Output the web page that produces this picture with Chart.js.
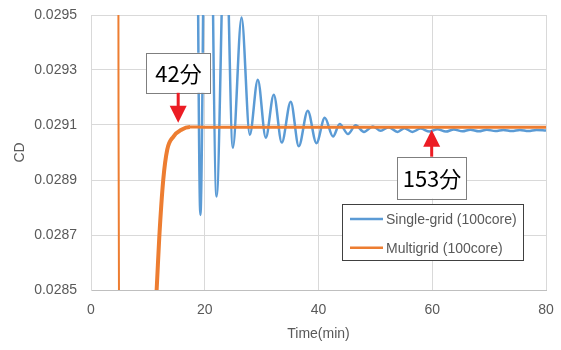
<!DOCTYPE html>
<html>
<head>
<meta charset="utf-8">
<script src="https://cdn.jsdelivr.net/npm/chart.js@4.4.1/dist/chart.umd.min.js"></script>
<style>
  body { margin: 0; background: #fff; }
  #wrap { width: 561px; height: 350px; }
</style>
</head>
<body>
<div id="wrap"><canvas id="myChart"></canvas></div>
<script>
// CD history (peaks and troughs only)
var seriesNames = ['Single-grid (100core)', 'Multigrid (100core)'];

var blueTime = [18.3, 19.23, 20.45, 22.08, 23.6, 24.94, 26.47, 27.92, 29.33, 30.73, 32.14, 33.54,
  35.12, 36.53, 38.11, 39.64, 41.1, 42.55, 43.73, 45.19, 46.54, 48.0, 49.58, 50.93, 52.3, 53.9,
  55.1, 56.5, 57.95, 59.5, 60.9, 62.4, 63.8, 65.3, 66.7, 68.2, 69.6, 71.1, 72.5, 74.0, 75.4, 76.9, 78.3, 80];
var blueCd = [0.0314, 0.028773, 0.0309, 0.02884, 0.0299, 0.029017, 0.029491, 0.029065, 0.029265, 0.029054,
  0.02921, 0.029036, 0.029185, 0.029023, 0.029152, 0.029034, 0.029126, 0.029058, 0.029104, 0.029067,
  0.029099, 0.029075, 0.029095, 0.029079, 0.029092, 0.029075, 0.029088, 0.029075, 0.029087, 0.029076,
  0.029085, 0.029076, 0.029084, 0.029077, 0.029083, 0.029077, 0.029083, 0.029078, 0.029082, 0.029078,
  0.029082, 0.029078, 0.029082, 0.02908];

var orangeTime = [4.80, 4.84, 4.97, 9.0, 11.0, 11.54, 12.0, 12.7, 13.4, 14.5, 15.9, 17.4, 20.0, 80];
var orangeCd = [0.0300, 0.02912, 0.0281, 0.0278, 0.02832, 0.0285, 0.02869, 0.0289, 0.02901, 0.029058,
  0.029083, 0.029093, 0.029092, 0.029092];

var xTicks = [0, 20, 40, 60, 80];
var yTicks = [0.0285, 0.0287, 0.0289, 0.0291, 0.0293, 0.0295];

// call-outs: label, time, CD at arrow tip
var noteLabels = ['42分', '153分'];
var noteTime = [15.33, 59.9];
var noteCd = [0.029108, 0.029083];

function pts(xs, ys) {
  return xs.map(function (x, i) { return { x: x, y: ys[i] }; });
}

var grey = '#595959';
var tickFont = { family: '"Liberation Sans", Arial, sans-serif', size: 14 };

// legend box sitting inside the plot
var boxLegend = {
  id: 'boxLegend',
  afterDraw: function (chart) {
    var c = chart.ctx;
    c.save();
    c.fillStyle = '#fff';
    c.fillRect(342, 204, 182, 57);
    c.strokeStyle = '#404040';
    c.lineWidth = 1;
    c.strokeRect(342.5, 204.5, 181, 56);
    c.font = '14px "Liberation Sans", Arial, sans-serif';
    c.textBaseline = 'middle';
    chart.data.datasets.forEach(function (ds, i) {
      var y = 219 + i * 28.7;
      c.strokeStyle = ds.borderColor;
      c.lineWidth = 2.5;
      c.beginPath();
      c.moveTo(350, y);
      c.lineTo(383, y);
      c.stroke();
      c.fillStyle = grey;
      c.fillText(ds.label, 386, y + 1);
    });
    c.restore();
  }
};

// red arrows with boxed labels
var callouts = {
  id: 'callouts',
  afterDraw: function (chart) {
    var c = chart.ctx, xs = chart.scales.x, ys = chart.scales.y;
    c.save();
    noteLabels.forEach(function (txt, i) {
      var px = xs.getPixelForValue(noteTime[i]);
      var tip = ys.getPixelForValue(noteCd[i]);
      var down = i === 0;
      var w = down ? 64 : 69, h = down ? 40 : 42;
      var by = down ? tip - 30 - h : tip + 27;
      var bx = Math.round(px - w / 2) + 0.5;
      c.fillStyle = '#fff';
      c.fillRect(bx, by, w, h);
      c.strokeStyle = '#7f7f7f';
      c.lineWidth = 1;
      c.strokeRect(bx, Math.round(by) + 0.5, w, h);
      c.fillStyle = '#000';
      c.font = '22px "Noto Sans CJK JP", sans-serif';
      c.textAlign = 'center';
      c.textBaseline = 'middle';
      c.fillText(txt, bx + w / 2, by + h / 2 + 1);

      var s = down ? -1 : 1;
      c.fillStyle = '#ec1c24';
      c.fillRect(px - 1.5, Math.min(tip + s * 15, tip + s * (down ? 30 : 27)),
        3, Math.abs((down ? 30 : 27) - 15));
      c.beginPath();
      c.moveTo(px - 8.5, tip + s * 17);
      c.lineTo(px + 8.5, tip + s * 17);
      c.lineTo(px, tip);
      c.closePath();
      c.fill();
    });
    c.restore();
  }
};

var ctx = document.getElementById('myChart').getContext('2d');

const myChart = new Chart(ctx, {
  type: 'line',
  data: {
    datasets: [{
      label: seriesNames[0],
      data: pts(blueTime, blueCd),
      borderColor: '#5b9bd5',
      borderWidth: 2.5,
      pointRadius: 0,
      cubicInterpolationMode: 'monotone',
      order: 1
    }, {
      label: seriesNames[1],
      data: pts(orangeTime, orangeCd),
      borderColor: '#ed7d31',
      borderWidth: 3,
      pointRadius: 0,
      cubicInterpolationMode: 'monotone',
      segment: {
        borderWidth: function (s) {
          if (s.p0DataIndex < 2) return 2;
          if (s.p0DataIndex >= 4 && s.p0DataIndex < 11) return 4;
          return 3;
        }
      },
      order: 0
    }]
  },
  options: {
    responsive: true,
    maintainAspectRatio: false,
    animation: false,
    events: [],
    layout: { padding: { top: 15, right: 15, bottom: 0, left: 0 } },
    plugins: {
      legend: { display: false },
      tooltip: { enabled: false }
    },
    scales: {
      x: {
        type: 'linear',
        min: 0,
        max: 80,
        afterBuildTicks: function (s) { s.ticks = xTicks.map(function (v) { return { value: v }; }); },
        afterFit: function (s) { s.height = 60; s.paddingLeft = 0; s.paddingRight = 0; },
        grid: { color: '#d9d9d9', drawTicks: false },
        border: { color: '#bfbfbf' },
        ticks: { color: grey, font: tickFont, padding: 12 },
        title: { display: true, text: 'Time(min)', color: grey, font: tickFont, padding: { top: 0, bottom: 7 } }
      },
      y: {
        min: 0.0285,
        max: 0.0295,
        afterBuildTicks: function (s) { s.ticks = yTicks.map(function (v) { return { value: v }; }); },
        afterFit: function (s) { s.width = 91; s.paddingTop = 0; s.paddingBottom = 0; },
        grid: { color: '#d9d9d9', drawTicks: false },
        border: { color: '#d9d9d9' },
        ticks: {
          color: grey, font: tickFont, padding: 14,
          callback: function (v) { return v.toFixed(4); }
        },
        title: { display: true, text: 'CD', color: grey, font: tickFont, padding: { top: 12, bottom: 0 } }
      }
    }
  },
  plugins: [boxLegend, callouts]
});
</script>
</body>
</html>
